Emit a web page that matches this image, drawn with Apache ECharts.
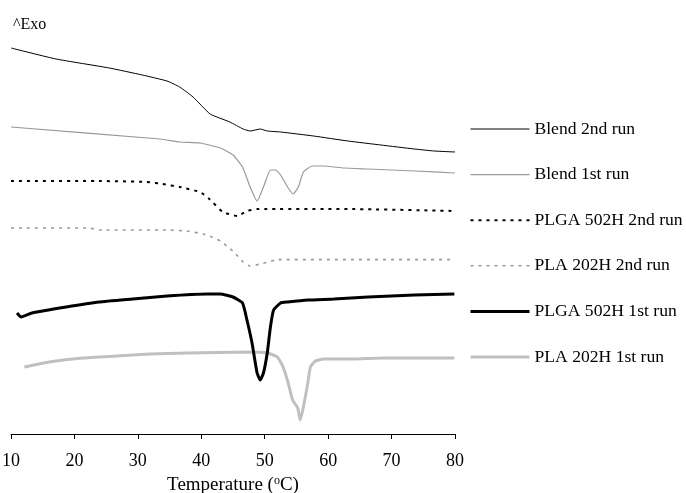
<!DOCTYPE html>
<html>
<head>
<meta charset="utf-8">
<script src="https://cdn.jsdelivr.net/npm/echarts@6/dist/echarts.min.js"></script>
<style>html,body{margin:0;padding:0;background:#fff;}#c{width:686px;height:493px;}</style>
</head>
<body>
<div id="c"></div>
<script>
// Temperature (°C) and offset heat-flow (arbitrary units, exo up)
const seriesNames = ['Blend 2nd run','Blend 1st run','PLGA 502H 2nd run','PLA 202H 2nd run','PLGA 502H 1st run','PLA 202H 1st run'];

const blend2T = [10.0,17.1,25.5,30.7,34.6,36.6,38.7,41.4,44.5,46.6,47.7,49.3,50.4,52.5,57.7,63.1,68.3,73.6,76.7,80.0];
const blend2Y = [96.5,93.75,91.5,89.75,88.25,86.75,84.25,80.0,78.0,76.25,75.75,76.25,75.75,75.5,74.5,73.25,72.25,71.25,70.75,70.5];

const blend1T = [10.0,33.5,36.6,39.8,43.0,45.0,46.5,47.7,48.8,49.8,50.9,51.7,52.5,53.6,54.5,55.3,56.1,57.5,59.3,62.5,66.3,73.6,80.0];
const blend1Y = [76.75,73.75,73.0,72.75,71.5,69.75,66.75,61.75,58.25,61.75,66.0,66.0,64.75,61.75,60.0,61.75,65.5,67.0,67.0,66.5,66.25,65.75,65.25];

const plga2T = [10.0,23.9,31.4,33.9,36.6,39.8,41.1,41.9,43.4,45.7,47.2,48.8,63.1,80.0];
const plga2Y = [63.25,63.25,63.0,62.5,61.75,60.5,59.0,57.75,55.5,54.5,55.75,56.25,56.25,55.75];

const pla2T = [10.0,22.4,23.9,34.6,37.7,40.3,41.7,43.0,44.2,45.3,46.6,47.7,49.3,50.6,52.0,80.0];
const pla2Y = [51.5,51.5,51.0,51.0,50.75,50.0,49.25,48.25,46.75,45.25,43.0,42.0,42.5,43.0,43.6,43.6];

const plga1T = [10.95,11.6,13.3,18.7,23.9,29.2,34.6,40.9,43.0,45.0,46.5,47.2,48.0,48.8,49.3,49.8,50.4,50.9,51.4,52.5,53.6,56.8,60.9,66.3,73.6,79.9];
const plga1Y = [30.25,29.25,30.25,31.75,33.0,33.75,34.5,35.0,35.0,34.25,32.75,28.5,22.75,15.25,13.5,15.25,20.25,26.75,31.0,32.75,33.0,33.5,33.75,34.25,34.75,35.0];

const pla1T = [12.1,16.0,21.3,26.6,31.9,37.7,47.7,50.4,52.0,52.9,53.7,54.4,55.2,55.6,56.1,56.8,57.2,58.0,59.3,63.6,68.8,74.2,79.9];
const pla1Y = [16.75,18.0,19.0,19.5,20.0,20.25,20.5,20.25,19.25,16.75,12.75,8.5,6.5,3.5,6.75,12.75,16.75,18.25,18.75,18.75,19.0,19.0,19.0];

const xTicks = [10,20,30,40,50,60,70,80];

const dataT = [blend2T, blend1T, plga2T, pla2T, plga1T, pla1T];
const dataY = [blend2Y, blend1Y, plga2Y, pla2Y, plga1Y, pla1Y];

const styles = [
  {color:'#000000', width:1, type:'solid'},
  {color:'#999999', width:1.2, type:'solid'},
  {color:'#000000', width:2, type:[3,5]},
  {color:'#999999', width:1.6, type:[3,5]},
  {color:'#000000', width:3, type:'solid'},
  {color:'#c0c0c0', width:3, type:'solid'}
];

const series = seriesNames.map((n, i) => ({
  name: n,
  type: 'line',
  symbol: 'none',
  showSymbol: false,
  smooth: 0.15,
  data: dataT[i].map((t, j) => [t, dataY[i][j]]),
  lineStyle: styles[i],
  itemStyle: {color: styles[i].color},
  z: 2 + (i === 4 ? 1 : 0)
}));

const chart = echarts.init(document.getElementById('c'), null, {renderer: 'canvas'});
chart.setOption({
  animation: false,
  backgroundColor: '#ffffff',
  textStyle: {fontFamily: 'Liberation Serif'},
  title: {
    text: '^Exo', left: 8, top: 12,
    textStyle: {fontFamily: 'Liberation Serif', fontSize: 16, fontWeight: 'normal', color: '#000'}
  },
  legend: {
    orient: 'vertical',
    left: 469, top: 120,
    padding: 0,
    itemWidth: 59, itemHeight: 18,
    itemGap: 27.6,
    selectedMode: false,
    itemStyle: {opacity: 0},
    data: seriesNames.map((n, i) => ({name: n, lineStyle: {width: styles[i].width, type: styles[i].type, color: styles[i].color}})),
    textStyle: {fontFamily: 'Liberation Serif', fontSize: 17.6, color: '#000'}
  },
  grid: {left: 11, right: 231, top: 34, bottom: 59, containLabel: false, outerBoundsMode: 'none'},
  xAxis: {
    type: 'value', min: 10, max: 80, interval: 10,
    name: 'Temperature ({sup|o}C)',
    nameLocation: 'middle', nameGap: 41,
    nameTextStyle: {
      fontFamily: 'Liberation Serif', fontSize: 19, color: '#000', lineHeight: 20,
      rich: {sup: {fontFamily: 'Liberation Serif', fontSize: 12, color: '#000', verticalAlign: 'top', lineHeight: 12}}
    },
    axisLine: {onZero: false, lineStyle: {color: '#000', width: 1}},
    axisTick: {show: true, length: 5, lineStyle: {color: '#000'}},
    axisLabel: {
      fontFamily: 'Liberation Serif', fontSize: 18, color: '#000', margin: 18,
      formatter: v => (xTicks.indexOf(v) >= 0 ? String(v) : '')
    },
    splitLine: {show: false}
  },
  yAxis: {
    type: 'value', min: 0, max: 100, show: false,
    splitLine: {show: false}
  },
  series: series
});
</script>
</body>
</html>
